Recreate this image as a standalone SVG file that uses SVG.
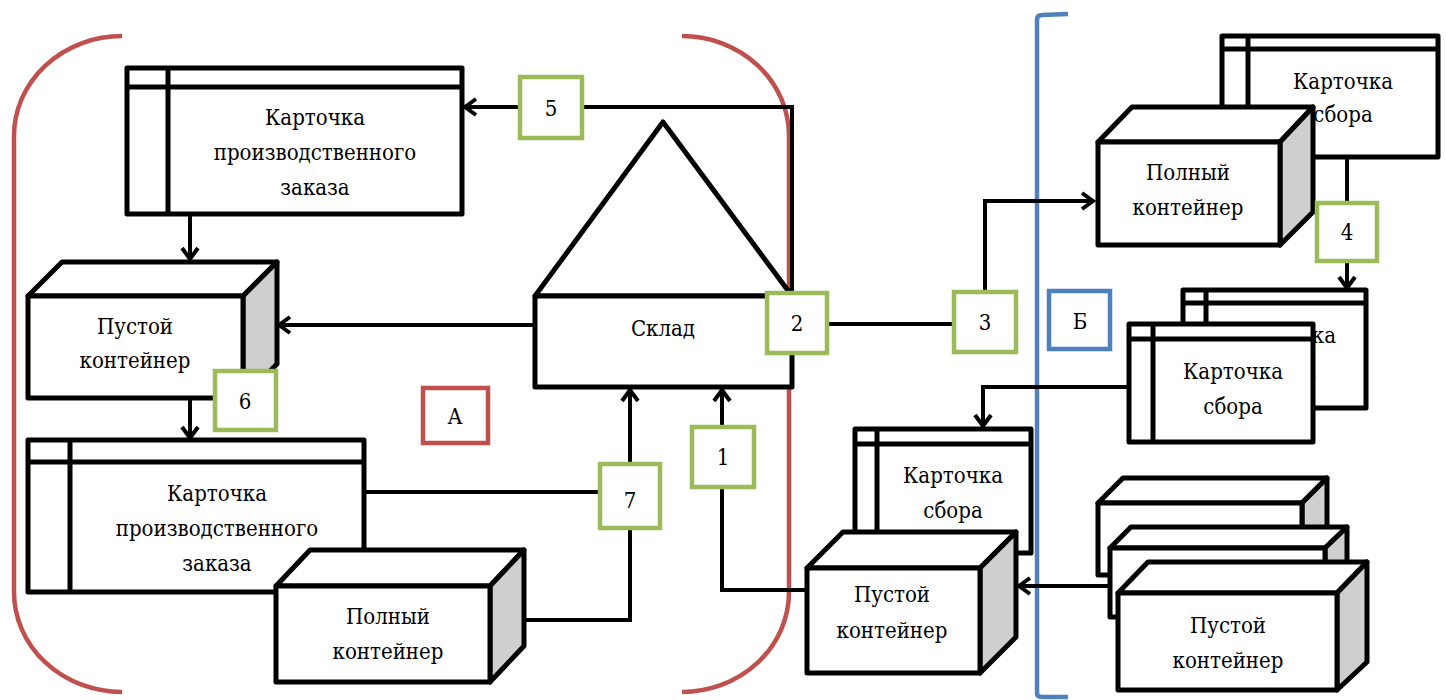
<svg xmlns="http://www.w3.org/2000/svg" width="1446" height="700" viewBox="0 0 1446 700">
<defs>
<style>
.ln{fill:none;stroke:#000;stroke-width:4;}
.sh{fill:#fff;stroke:#000;stroke-width:5;stroke-linejoin:round;}
.sd{fill:#cfcfcf;stroke:#000;stroke-width:5;stroke-linejoin:round;}
.in{fill:none;stroke:#000;stroke-width:5;}
.g{fill:#fff;stroke:#9BBB59;stroke-width:4.5;}
.r{fill:#fff;stroke:#C0504D;stroke-width:4.5;}
.b{fill:#fff;stroke:#4F81BD;stroke-width:4.5;}
.t{font-family:"DejaVu Serif","Liberation Serif",serif;font-stretch:condensed;font-size:22px;fill:#000;text-anchor:middle;}
</style>
<marker id="ah" markerUnits="userSpaceOnUse" viewBox="0 0 16 20" markerWidth="16" markerHeight="20" refX="13" refY="10" orient="auto">
<path d="M2,2 L13,10 L2,18" fill="none" stroke="#000" stroke-width="4" stroke-linejoin="miter"/>
</marker>
</defs>

<g id="brackets">
<path d="M122,36 A108,100 0 0 0 14,136 L14,592 A108,100 0 0 0 122,692" fill="none" stroke="#C0504D" stroke-width="4.5"/>
<path d="M682,36 A107,100 0 0 1 789,136 L789,592 A107,100 0 0 1 682,692" fill="none" stroke="#C0504D" stroke-width="4.5"/>
<path d="M1068,14 L1042,15 Q1037,15 1037,20 L1037,693 Q1037,697 1042,697 L1068,697" fill="none" stroke="#4F81BD" stroke-width="4.5"/>
</g>

<g id="connectors">
<path class="ln" d="M190,214 L190,259" marker-end="url(#ah)"/>
<path class="ln" d="M190,398 L190,438" marker-end="url(#ah)"/>
<path class="ln" d="M535,325 L279,325" marker-end="url(#ah)"/>
<path class="ln" d="M792,297 L792,107 L465,107" marker-end="url(#ah)"/>
<path class="ln" d="M827,324 L954,324"/>
<path class="ln" d="M985,292 L985,201 L1093,201" marker-end="url(#ah)"/>
<path class="ln" d="M1347,158 L1347,288" marker-end="url(#ah)"/>
<path class="ln" d="M1129,387 L983,387 L983,426" marker-end="url(#ah)"/>
<path class="ln" d="M1110,586 L1019,586" marker-end="url(#ah)"/>
<path class="ln" d="M807,590 L722,590 L722,390" marker-end="url(#ah)"/>
<path class="ln" d="M364,492 L630,492"/>
<path class="ln" d="M490,620 L630,620 L630,390" marker-end="url(#ah)"/>
</g>

<g id="card-prod-top">
<rect class="sh" x="127" y="68" width="335" height="146"/>
<line class="in" x1="127" y1="87" x2="462" y2="87"/>
<line class="in" x1="168" y1="68" x2="168" y2="214"/>
<text class="t" x="315" y="125">Карточка</text>
<text class="t" x="315" y="160">производственного</text>
<text class="t" x="315" y="195">заказа</text>
</g>

<g id="box-empty-left">
<polygon class="sh" points="28,296 62,262 277,262 243,296"/>
<polygon class="sd" points="243,296 277,262 277,364 243,398"/>
<rect class="sh" x="28" y="296" width="215" height="102"/>
<text class="t" x="135" y="334">Пустой</text>
<text class="t" x="135" y="368">контейнер</text>
</g>

<g id="card-prod-bottom">
<rect class="sh" x="28" y="440" width="336" height="152"/>
<line class="in" x1="28" y1="462" x2="364" y2="462"/>
<line class="in" x1="70" y1="440" x2="70" y2="592"/>
<text class="t" x="217" y="501">Карточка</text>
<text class="t" x="217" y="536">производственного</text>
<text class="t" x="217" y="571">заказа</text>
</g>

<g id="box-full-left">
<polygon class="sh" points="276,586 310,550 524,550 490,586"/>
<polygon class="sd" points="490,586 524,550 524,646 490,682"/>
<rect class="sh" x="276" y="586" width="214" height="96"/>
<text class="t" x="388" y="624">Полный</text>
<text class="t" x="388" y="659">контейнер</text>
</g>

<g id="sklad">
<polygon class="sh" points="535,296 663,122 792,296"/>
<rect class="sh" x="535" y="296" width="257" height="91"/>
<text class="t" x="663" y="336">Склад</text>
</g>

<g id="card-sbor-top">
<rect class="sh" x="1222" y="36" width="216" height="121"/>
<line class="in" x1="1222" y1="49" x2="1438" y2="49"/>
<line class="in" x1="1248" y1="36" x2="1248" y2="157"/>
<text class="t" x="1343" y="89">Карточка</text>
<text class="t" x="1343" y="122">сбора</text>
</g>

<g id="box-full-right">
<polygon class="sh" points="1098,142 1132,107 1313,107 1280,142"/>
<polygon class="sd" points="1280,142 1313,107 1313,212 1280,245"/>
<rect class="sh" x="1098" y="142" width="182" height="103"/>
<text class="t" x="1188" y="180">Полный</text>
<text class="t" x="1188" y="215">контейнер</text>
</g>

<g id="card-sbor-mid-back">
<rect class="sh" x="1183" y="290" width="183" height="118"/>
<line class="in" x1="1183" y1="303" x2="1366" y2="303"/>
<line class="in" x1="1206" y1="290" x2="1206" y2="408"/>
<text class="t" x="1286" y="343">Карточка</text>
<text class="t" x="1286" y="378">сбора</text>
</g>

<g id="card-sbor-mid-front">
<rect class="sh" x="1129" y="324" width="184" height="118"/>
<line class="in" x1="1129" y1="339" x2="1313" y2="339"/>
<line class="in" x1="1153" y1="324" x2="1153" y2="442"/>
<text class="t" x="1233" y="379">Карточка</text>
<text class="t" x="1233" y="414">сбора</text>
</g>

<g id="card-sbor-bottom">
<rect class="sh" x="855" y="429" width="176" height="124"/>
<line class="in" x1="855" y1="444" x2="1031" y2="444"/>
<line class="in" x1="877" y1="429" x2="877" y2="553"/>
<text class="t" x="953" y="483">Карточка</text>
<text class="t" x="953" y="518">сбора</text>
</g>

<g id="box-empty-mid">
<polygon class="sh" points="807,568 843,532 1016,532 980,568"/>
<polygon class="sd" points="980,568 1016,532 1016,637 980,673"/>
<rect class="sh" x="807" y="568" width="173" height="105"/>
<text class="t" x="892" y="602">Пустой</text>
<text class="t" x="892" y="638">контейнер</text>
</g>

<g id="stack-empty">
<polygon class="sh" points="1098,503 1123,478 1327,478 1302,503"/>
<polygon class="sd" points="1302,503 1327,478 1327,550 1302,575"/>
<rect class="sh" x="1098" y="503" width="204" height="72"/>
<polygon class="sh" points="1110,548 1131,527 1347,527 1325,548"/>
<polygon class="sd" points="1325,548 1347,527 1347,596 1325,617"/>
<rect class="sh" x="1110" y="548" width="215" height="69"/>
<polygon class="sh" points="1118,593 1148,562 1367,562 1337,593"/>
<polygon class="sd" points="1337,593 1367,562 1367,662 1337,690"/>
<rect class="sh" x="1118" y="593" width="219" height="97"/>
<text class="t" x="1228" y="633">Пустой</text>
<text class="t" x="1228" y="668">контейнер</text>
</g>

<g id="badges">
<rect class="g" x="692" y="427" width="62" height="60"/><text class="t" x="723" y="465">1</text>
<rect class="g" x="767" y="293" width="60" height="60"/><text class="t" x="797" y="331">2</text>
<rect class="g" x="954" y="292" width="62" height="60"/><text class="t" x="985" y="330">3</text>
<rect class="g" x="1317" y="203" width="60" height="58"/><text class="t" x="1347" y="240">4</text>
<rect class="g" x="520" y="77" width="62" height="61"/><text class="t" x="551" y="116">5</text>
<rect class="g" x="215" y="371" width="61" height="59"/><text class="t" x="245" y="409">6</text>
<rect class="g" x="600" y="464" width="60" height="64"/><text class="t" x="630" y="508">7</text>
<rect class="r" x="423" y="388" width="65" height="55"/><text class="t" x="455" y="424">А</text>
<rect class="b" x="1049" y="291" width="61" height="58"/><text class="t" x="1080" y="329">Б</text>
</g>
</svg>
